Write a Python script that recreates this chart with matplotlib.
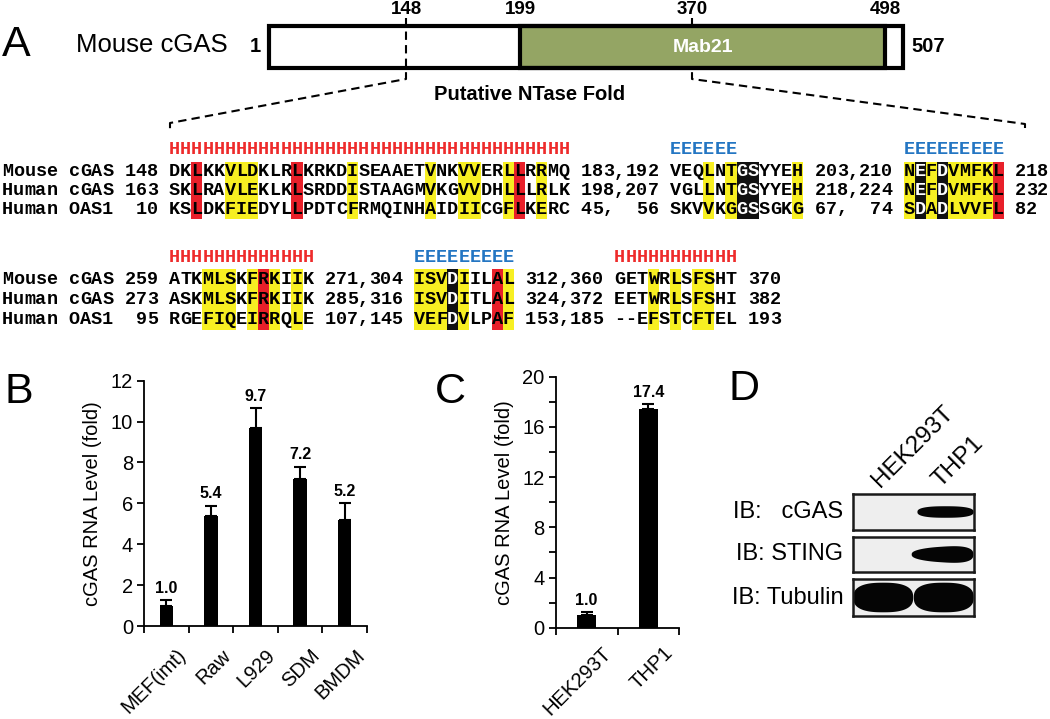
import numpy as np
import matplotlib
matplotlib.use("Agg")
import matplotlib.pyplot as plt
from matplotlib.patches import Rectangle, Polygon
from matplotlib.ticker import MultipleLocator
from matplotlib.transforms import ScaledTranslation

plt.rcParams['font.family'] = ['Liberation Sans', 'DejaVu Sans']

# ------------------------------------------------------------------ data
# Panel A: domain diagram
protein_name = "Mouse cGAS"
protein_length = 507
domain_name = "Mab21"
domain_range = [199, 498]
fold_range = [148, 370]
marked_residues = [148, 199, 370, 498]

# Panel A: alignment (group 1 and group 2)
align1_rows = [
    "Mouse cGAS 148 DKLKKVLDKLRLKRKDISEAAETVNKVVERLLRRMQ 183,192 VEQLNTGSYYEH 203,210 NEFDVMFKL 218",
    "Human cGAS 163 SKLRAVLEKLKLSRDDISTAAGMVKGVVDHLLLRLK 198,207 VGLLNTGSYYEH 218,224 NEFDVMFKL 232",
    "Human OAS1  10 KSLDKFIEDYLLPDTCFRMQINHAIDIICGFLKERC 45,  56 SKVVKGGSSGKG 67,  74 SDADLVVFL 82",
]
align1_helix = " " * 15 + "H" * 36
align1_strand = " " * 60 + "E" * 6 + " " * 15 + "E" * 9
align1_block_start = [15, 60, 81]
align1_yellow = {0: [5, 6, 7, 16, 23, 26, 27, 30, 33], 1: [3, 5, 11], 2: [0, 2, 4, 5, 6, 7]}
align1_red = {0: [2, 11, 31], 2: [8]}
align1_black = {1: [6, 7], 2: [1, 3]}

align2_rows = [
    "Mouse cGAS 259 ATKMLSKFRKIIK 271,304 ISVDIILAL 312,360 GETWRLSFSHT 370",
    "Human cGAS 273 ASKMLSKFRKIIK 285,316 ISVDITLAL 324,372 EETWRLSFSHI 382",
    "Human OAS1  95 RGEFIQEIRRQLE 107,145 VEFDVLPAF 153,185 --EFSTCFTEL 193",
]
align2_helix = " " * 15 + "H" * 13 + " " * 27 + "H" * 11
align2_strand = " " * 37 + "E" * 9
align2_block_start = [15, 37, 55]
align2_yellow = {0: [3, 4, 5, 7, 9, 11], 1: [0, 1, 2, 4, 8], 2: [3, 5, 7, 8]}
align2_red = {0: [8], 1: [7]}
align2_black = {1: [3]}

# Panel B
cellsB = ["MEF(imt)", "Raw", "L929", "SDM", "BMDM"]
foldB = [1.0, 5.4, 9.7, 7.2, 5.2]
errB = [0.27, 0.49, 0.95, 0.60, 0.80]

# Panel C
cellsC = ["HEK293T", "THP1"]
foldC = [1.0, 17.4]
errC = [0.27, 0.45]

# Panel D: western blot (relative band signal per lane)
blot_targets = ["cGAS", "STING", "Tubulin"]
blot_labels = ["IB:   cGAS", "IB: STING", "IB: Tubulin"]
blot_lanes = ["HEK293T", "THP1"]
blot_signal = [[0.0, 1.0], [0.0, 1.0], [1.0, 1.0]]

# ------------------------------------------------------------------ style
GREEN = "#94a564"
YELLOW = "#f7ef22"
RED = "#e8202a"
HRED = "#ee2b2b"
EBLUE = "#2476c3"
MONO = "Liberation Mono"

fig = plt.figure(figsize=(10.5, 7.19), dpi=100)
ax0 = fig.add_axes([0, 0, 1, 1])
ax0.set_xlim(0, 1050)
ax0.set_ylim(719, 0)
ax0.axis('off')

# ---------------------------------------------------------- panel A: domains
res_anchor = [1, 148, 199, 370, 498, 507]
px_anchor = [269, 406, 520, 692, 885, 903]


def rx(r):
    return float(np.interp(r, res_anchor, px_anchor))


btop, bbot = 26, 68
ax0.add_patch(Rectangle((rx(1), btop), rx(protein_length) - rx(1), bbot - btop,
                        fc='white', ec='none', zorder=1))
ax0.add_patch(Rectangle((rx(domain_range[0]), btop), rx(domain_range[1]) - rx(domain_range[0]),
                        bbot - btop, fc=GREEN, ec='black', lw=3, zorder=3))
ax0.add_patch(Rectangle((rx(1), btop), rx(protein_length) - rx(1), bbot - btop,
                        fc='none', ec='black', lw=3, zorder=4))
ax0.text((rx(domain_range[0]) + rx(domain_range[1])) / 2, 47, domain_name, color='white',
         fontsize=14, fontweight='bold', ha='center', va='center', zorder=5)
for r in marked_residues:
    ax0.text(rx(r), 10, str(r), fontsize=13.5, fontweight='bold', ha='center', va='center')
ax0.text(rx(1) - 14, 46, "1", fontsize=14.5, fontweight='bold', ha='center', va='center')
ax0.text(rx(protein_length) + 8, 46, str(protein_length), fontsize=14.5, fontweight='bold',
         ha='left', va='center')
ax0.text(228, 45, protein_name, fontsize=18.5, ha='right', va='center')
ax0.text(2, 45, "A", fontsize=31, ha='left', va='center')
ax0.text(530, 95, "Putative NTase Fold", fontsize=14.5, fontweight='bold', ha='center', va='center')

dash = dict(color='black', lw=1.5, ls=(0, (4, 2.5)), zorder=2)
xl, xr = rx(fold_range[0]), rx(fold_range[1])
ax0.plot([xl, xl, 170, 170], [18, 79, 123, 133], **dash)
ax0.plot([xr, xr, 1025, 1025], [18, 79, 124, 133], **dash)

# ---------------------------------------------------------- panel A: alignment
x0, cw = 2.0, 11.13
fs_mono = cw / 0.6 * 72 / 100


def draw_group(rows, helix, strand, starts, yellow, red, black, ss_y, row_y):
    spacing = row_y[1] - row_y[0]
    top = row_y[0] - 0.55 * spacing
    bot = row_y[-1] + 0.55 * spacing
    white_cols = set()
    for colors, fc in ((yellow, YELLOW), (red, RED), (black, '#111111')):
        for blk, cols in colors.items():
            for c in cols:
                col = starts[blk] + c
                ax0.add_patch(Rectangle((x0 + col * cw, top), cw, bot - top, fc=fc, ec='none', zorder=1))
                if fc == '#111111':
                    white_cols.add(col)
    for s, colr in ((helix, HRED), (strand, EBLUE)):
        for i, ch in enumerate(s):
            if ch != ' ':
                ax0.text(x0 + (i + 0.5) * cw, ss_y, ch, family=MONO, fontweight='bold',
                         fontsize=fs_mono, color=colr, ha='center', va='center', zorder=3)
    for row, y in zip(rows, row_y):
        for i, ch in enumerate(row):
            if ch == ' ':
                continue
            ax0.text(x0 + (i + 0.5) * cw, y, ch, family=MONO, fontweight='bold',
                     fontsize=fs_mono, color='white' if i in white_cols else 'black',
                     ha='center', va='center', zorder=3)


draw_group(align1_rows, align1_helix, align1_strand, align1_block_start,
           align1_yellow, align1_red, align1_black, 150, [172, 190.5, 209])
draw_group(align2_rows, align2_helix, align2_strand, align2_block_start,
           align2_yellow, align2_red, align2_black, 257, [280, 299.5, 319])

# ---------------------------------------------------------- panel B
def style_axes(ax):
    for s in ('top', 'right'):
        ax.spines[s].set_visible(False)
    for s in ('left', 'bottom'):
        ax.spines[s].set_linewidth(1.3)
    ax.tick_params(axis='y', which='both', direction='out', length=5, width=1.3,
                   labelsize=14.5, pad=3)


W, H = 1050.0, 719.0
axB = fig.add_axes([144 / W, (H - 626) / H, 223 / W, (626 - 380.7) / H])
xB = np.arange(len(cellsB))
axB.bar(xB, foldB, width=0.3, color='black', zorder=2)
axB.errorbar(xB, foldB, yerr=[np.zeros(len(errB)), errB], fmt='none', ecolor='black',
             elinewidth=1.5, capsize=4.5, capthick=1.5, zorder=3)
for xi, v, e in zip(xB, foldB, errB):
    axB.annotate(f"{v:.1f}", (xi, v + e), xytext=(0, 3), textcoords='offset points',
                 ha='center', va='bottom', fontsize=11.5, fontweight='bold')
axB.set_xlim(-0.5, len(cellsB) - 0.5)
axB.set_ylim(0, 12)
axB.yaxis.set_major_locator(MultipleLocator(2))
axB.set_xticks(xB)
axB.set_xticklabels(cellsB, rotation=45, ha='right', va='center', rotation_mode='anchor', fontsize=14.5)
axB.set_xticks(np.arange(-0.5, len(cellsB)), minor=True)
style_axes(axB)
axB.tick_params(axis='x', which='major', length=0, pad=19)
axB.tick_params(axis='x', which='minor', length=5, width=1.3, direction='out')
axB.set_ylabel("cGAS RNA Level (fold)", fontsize=14.5, labelpad=6)
for lab in axB.get_xticklabels():
    lab.set_transform(lab.get_transform() + ScaledTranslation(0.17, 0, fig.dpi_scale_trans))

# ---------------------------------------------------------- panel C
axC = fig.add_axes([555.7 / W, (H - 627.7) / H, 123.6 / W, (627.7 - 376.7) / H])
xC = np.arange(len(cellsC))
axC.bar(xC, foldC, width=0.3, color='black', zorder=2)
axC.errorbar(xC, foldC, yerr=[np.zeros(len(errC)), errC], fmt='none', ecolor='black',
             elinewidth=1.5, capsize=4.5, capthick=1.5, zorder=3)
for xi, v, e in zip(xC, foldC, errC):
    axC.annotate(f"{v:.1f}", (xi, v + e), xytext=(0, 3), textcoords='offset points',
                 ha='center', va='bottom', fontsize=11.5, fontweight='bold')
axC.set_xlim(-0.5, len(cellsC) - 0.5)
axC.set_ylim(0, 20)
axC.yaxis.set_major_locator(MultipleLocator(4))
axC.yaxis.set_minor_locator(MultipleLocator(2))
axC.set_xticks(xC)
axC.set_xticklabels(cellsC, rotation=45, ha='right', va='center', rotation_mode='anchor', fontsize=14.5)
axC.set_xticks(np.arange(-0.5, len(cellsC)), minor=True)
style_axes(axC)
axC.tick_params(axis='x', which='major', length=0, pad=16)
axC.tick_params(axis='x', which='minor', length=5, width=1.3, direction='out')
axC.set_ylabel("cGAS RNA Level (fold)", fontsize=14.5, labelpad=6)
for lab in axC.get_xticklabels():
    lab.set_transform(lab.get_transform() + ScaledTranslation(0.22, 0, fig.dpi_scale_trans))

# ---------------------------------------------------------- panel D
strips_px = [(494, 530), (537, 572), (579, 616)]
band_thick = [0.32, 0.56, 0.80]
band_center = [0.5, 0.5, 0.5]


def band(ax, xc, yc, w, h, taper=0.0, n=3.0):
    t = np.linspace(0, 2 * np.pi, 240)
    c, s = np.cos(t), np.sin(t)
    bx = xc + w / 2 * np.sign(c) * np.abs(c) ** (2 / n)
    scale = 1 - taper * (1 - (bx - (xc - w / 2)) / w)
    by = yc + h / 2 * np.sign(s) * np.abs(s) ** (2 / n) * scale
    ax.add_patch(Polygon(np.column_stack([bx, by]), closed=True, fc='#050505', ec='none'))


blot_axes = []
for k, (target, lab) in enumerate(zip(blot_targets, blot_labels)):
    t, b = strips_px[k]
    ax = fig.add_axes([853 / W, (H - b) / H, 121 / W, (b - t) / H])
    ax.set_xlim(0, len(blot_lanes))
    ax.set_ylim(0, 1)
    ax.set_facecolor('#eeeeee')
    ax.set_xticks([])
    ax.set_yticks([])
    for sp in ax.spines.values():
        sp.set_linewidth(1.8)
        sp.set_color('#1a1a1a')
    for j, sig in enumerate(blot_signal[k]):
        if sig > 0:
            if target == "STING":
                band(ax, j + 0.48, band_center[k], 1.02 * sig, band_thick[k] * sig, taper=0.4, n=2.6)
            elif target == "Tubulin":
                band(ax, j + 0.5, band_center[k], 0.99 * sig, band_thick[k] * sig, n=2.6)
            else:
                band(ax, j + 0.53, band_center[k], 0.93 * sig, band_thick[k] * sig, n=2.6)
    ax.text(-0.08, 0.5, lab, transform=ax.transAxes, ha='right', va='center', fontsize=17)
    blot_axes.append(ax)

for j, lane in enumerate(blot_lanes):
    blot_axes[0].text(j + 0.5, 1.08, lane, rotation=45, rotation_mode='anchor',
                      ha='left', va='bottom', fontsize=17.5, clip_on=False)

# panel letters
ax0.text(4, 392, "B", fontsize=31, ha='left', va='center')
ax0.text(435, 392, "C", fontsize=31, ha='left', va='center')
ax0.text(728, 389, "D", fontsize=31, ha='left', va='center')

fig.savefig("out.png", dpi=100)
